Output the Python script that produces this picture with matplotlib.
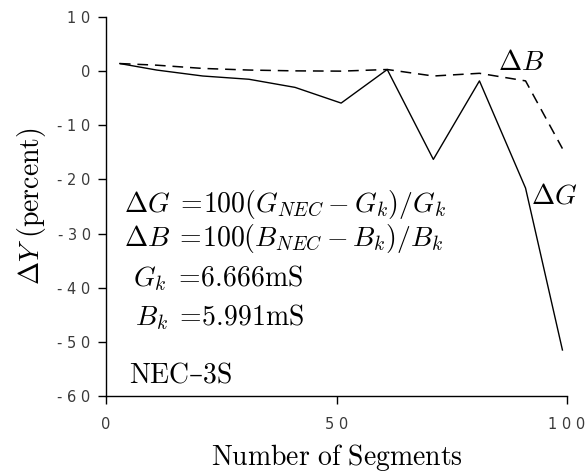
import matplotlib
matplotlib.use("Agg")
import matplotlib.pyplot as plt

plt.rcParams['mathtext.fontset'] = 'cm'

# number of segments and percentage errors
segs = [3, 11, 21, 31, 41, 51, 61, 71, 81, 91, 99]
dG = [1.4, 0.2, -0.9, -1.5, -3.0, -5.9, 0.3, -16.3, -1.8, -21.6, -51.5]
dB = [1.4, 1.1, 0.5, 0.2, 0.05, 0.0, 0.3, -0.9, -0.4, -1.8, -14.3]

xticks = [0, 50, 100]
yticks = [10, 0, -10, -20, -30, -40, -50, -60]


def spaced(v):
    # plotter-style labels: every character spread out
    return " ".join(str(v))


fig = plt.figure(figsize=(5.87, 4.72), dpi=100)
ax = fig.add_axes([0.1806, 0.161, 0.7854, 0.803])

ax.plot(segs, dG, color='black', lw=1.0)
ax.plot(segs, dB, color='black', lw=1.1, dashes=(7, 4.5))

ax.set_xlim(0, 100)
ax.set_ylim(-60, 10)
ax.spines['top'].set_visible(False)
ax.spines['right'].set_visible(False)
for s in ('left', 'bottom'):
    ax.spines[s].set_linewidth(1.0)

tickfont = dict(family='DejaVu Sans', size=10.5, color='#3a3a3a')
ax.set_xticks(xticks)
ax.set_xticklabels([spaced(v) for v in xticks], **tickfont)
ax.set_yticks(yticks)
ax.set_yticklabels([spaced(v) for v in yticks], **tickfont)
ax.tick_params(direction='out', length=6, width=1.0)
ax.tick_params(axis='x', pad=9)
ax.tick_params(axis='y', pad=5)

fs = 20
ax.set_xlabel(r'$\mathrm{Number\ of\ Segments}$', fontsize=fs, labelpad=7)
ax.set_ylabel(r'$\Delta Y\ \mathrm{(percent)}$', fontsize=fs, labelpad=7)

ax.text(85, 1.7, r'$\Delta B$', fontsize=fs, va='center', ha='left')
ax.text(92.2, -22.9, r'$\Delta G$', fontsize=fs, va='center', ha='left')

ax.text(3.9, -24.6, r'$\Delta G\;=\!100(G_{NEC}-G_k)/G_k$', fontsize=fs, va='center')
ax.text(3.9, -31.0, r'$\Delta B\;=\!100(B_{NEC}-B_k)/B_k$', fontsize=fs, va='center')
ax.text(5.9, -38.2, r'$G_k\;=\!6.666\mathrm{mS}$', fontsize=fs, va='center')
ax.text(6.3, -45.4, r'$B_k\;=\!5.991\mathrm{mS}$', fontsize=fs, va='center')
ax.text(5.0, -56.2, r'$\mathrm{NEC}$–$\mathrm{3S}$', fontsize=fs, va='center',
        family='DejaVu Serif')

fig.savefig('out.png', dpi=100)
